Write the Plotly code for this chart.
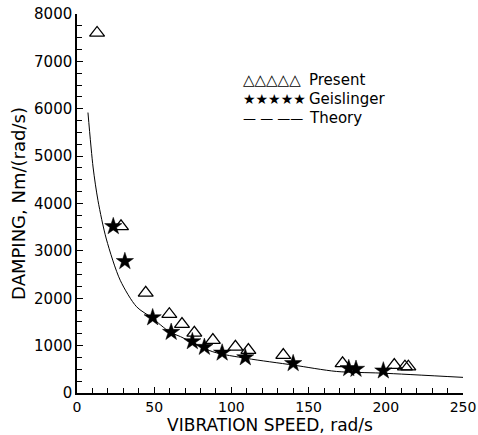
import plotly.graph_objects as go

# Present (triangles)
present_x = [13, 28.5, 44.5, 59.8, 68, 76, 88, 102.6, 111, 133.6, 172, 205.5, 212.4, 214.6]
present_y = [7600, 3516, 2112, 1663, 1453, 1270, 1116, 975, 905, 800, 625, 590, 555, 555]

# Geislinger (stars)
geis_x = [23.5, 31, 49, 61, 74.7, 82.5, 94, 109, 140, 176, 180.7, 198.4]
geis_y = [3516, 2779, 1593, 1284, 1088, 968, 848, 749, 625, 520, 505, 470]

# Theory curve
theory_x = [7.1, 10.4, 13.6, 19, 28, 38.6, 48.4, 60, 67, 88, 110, 140, 168, 197, 250]
theory_y = [5920, 4770, 4060, 3250, 2380, 1820, 1590, 1290, 1190, 870, 730, 590, 455, 420, 330]

FONT = "DejaVu Sans"

fig = go.Figure()
fig.add_trace(go.Scatter(x=theory_x, y=theory_y, mode="lines", name="Theory",
                         line=dict(color="black", width=1, shape="spline", smoothing=0.8)))
fig.add_trace(go.Scatter(x=present_x, y=present_y, mode="markers", name="Present",
                         marker=dict(symbol="triangle-up-open", size=13, color="black",
                                     line=dict(width=1.3, color="black"))))
fig.add_trace(go.Scatter(x=geis_x, y=geis_y, mode="markers", name="Geislinger",
                         marker=dict(symbol="star", size=13, color="black",
                                     line=dict(width=0.5, color="black"))))

axis_common = dict(showgrid=False, zeroline=False, showline=True, linecolor="black",
                   linewidth=1.5, ticks="inside", ticklen=6, tickwidth=1.2, tickcolor="black",
                   automargin=False)

fig.update_xaxes(range=[0, 250], dtick=50, tick0=0,
                 tickfont=dict(family=FONT, size=14, color="black"),
                 minor=dict(dtick=10, ticks="inside", ticklen=5, tickwidth=1, tickcolor="black"),
                 title=dict(text="VIBRATION SPEED, rad/s", font=dict(family=FONT, size=17, color="black"),
                            standoff=1),
                 **axis_common)
fig.update_yaxes(range=[0, 8000], dtick=1000, tick0=0,
                 tickfont=dict(family=FONT, size=15, color="black"),
                 minor=dict(dtick=250, ticks="inside", ticklen=5, tickwidth=1, tickcolor="black"),
                 title=dict(text="DAMPING, Nm/(rad/s)", font=dict(family=FONT, size=18, color="black"),
                            standoff=4),
                 **axis_common)

# Legend drawn as text
leg = [("△△△△△", "Present", 0.825, 15), ("★★★★★", "Geislinger", 0.775, 14), ("— — ——", "Theory", 0.725, 13)]
for sym, lab, yy, sz in leg:
    fig.add_annotation(xref="paper", yref="paper", x=0.425, y=yy, text=sym, showarrow=False,
                       xanchor="left", yanchor="middle", font=dict(family=FONT, size=sz, color="black"))
    fig.add_annotation(xref="paper", yref="paper", x=0.595, y=yy, text=lab, showarrow=False,
                       xanchor="left", yanchor="middle", font=dict(family=FONT, size=15, color="black"))

fig.update_layout(width=478, height=435, margin=dict(l=77, r=15, t=14, b=42),
                  plot_bgcolor="white", paper_bgcolor="white", showlegend=False,
                  font=dict(family=FONT, color="black"))

fig.write_html("out.html")
